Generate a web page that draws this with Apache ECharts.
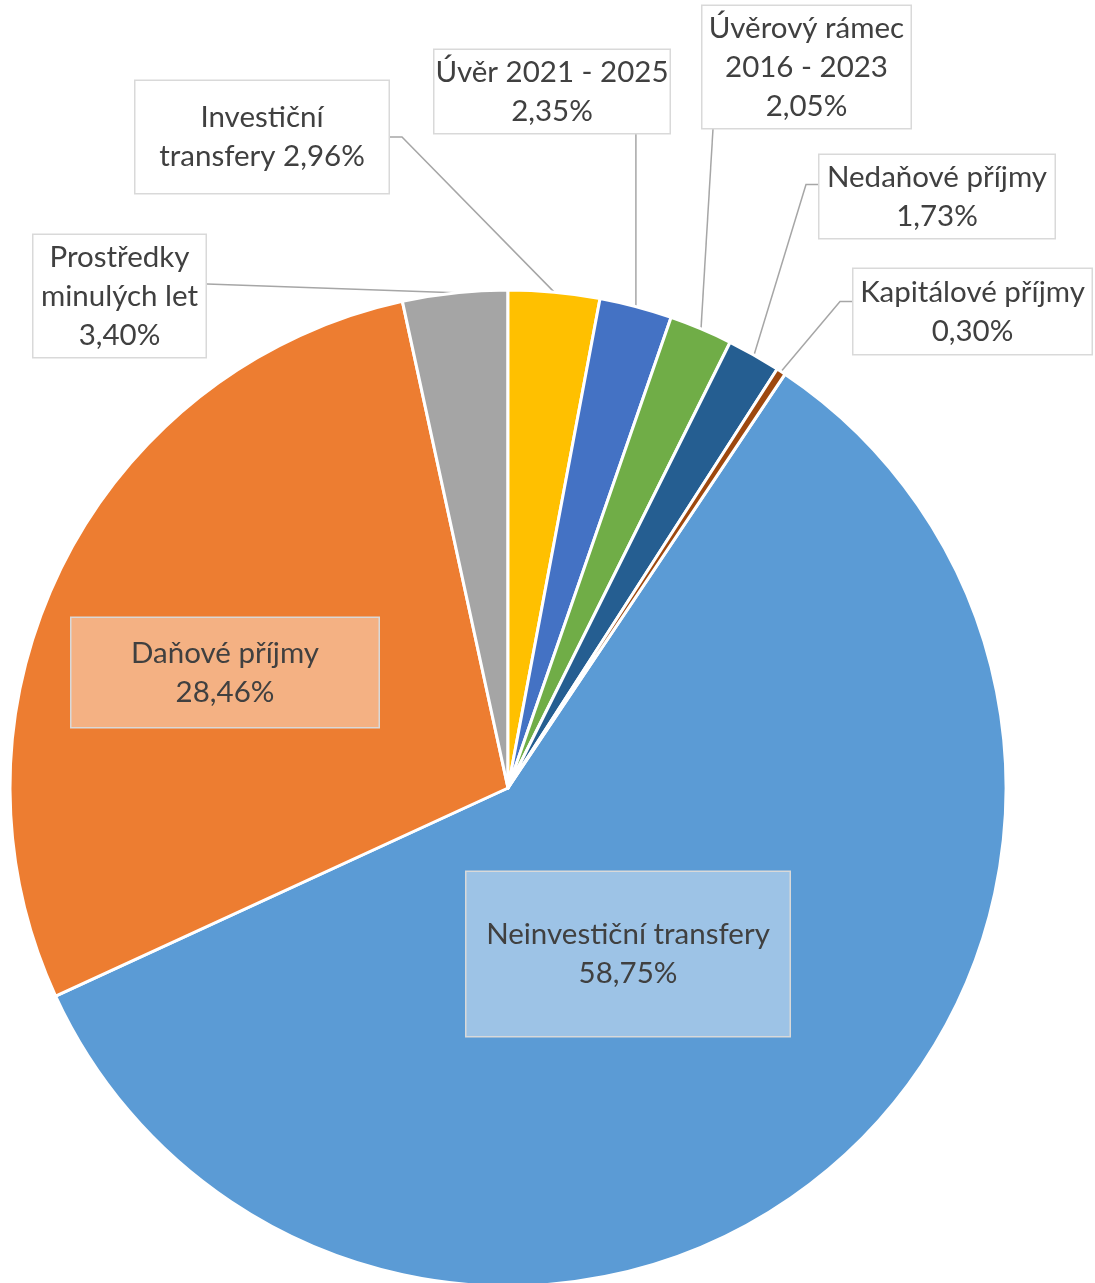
<!DOCTYPE html>
<html>
<head>
<meta charset="utf-8">
<script src="https://cdn.jsdelivr.net/npm/echarts@6/dist/echarts.min.js"></script>
<style>
  html, body { margin: 0; padding: 0; background: #fff; }
  #chart { width: 1095px; height: 1283px; }
</style>
</head>
<body>
<div id="chart"></div>
<script>
// kategorie příjmů (pořadí = pořadí výsečí po směru hodinových ručiček)
const categories = [
  'Neinvestiční transfery',
  'Daňové příjmy',
  'Prostředky\nminulých let',
  'Investiční\ntransfery',
  'Úvěr 2021 - 2025',
  'Úvěrový rámec\n2016 - 2023',
  'Nedaňové příjmy',
  'Kapitálové příjmy'
]
// podíly v %
const shares = [58.75, 28.46, 3.40, 2.96, 2.35, 2.05, 1.73, 0.30]
// procenta na stejném řádku jako název
const pctSameLine = [false, false, false, true, false, false, false, false]

const colors = ['#5B9BD5', '#ED7D31', '#A5A5A5', '#FFC000', '#4472C4', '#70AD47', '#255E91', '#9E480E']

// rozmístění popisků (střed boxu, velikost, strana pro vodicí čáru)
const labelBoxes = [
  { cx: 628, cy: 954, w: 326, h: 166, fill: '#9DC3E6' },
  { cx: 225, cy: 672.5, w: 310, h: 111, fill: '#F4B183' },
  { cx: 119.5, cy: 296, w: 175, h: 124, side: 'right', dy: -12, elbow: 0 },
  { cx: 262, cy: 137, w: 256, h: 114, side: 'right', dy: 0, elbow: 12 },
  { cx: 552, cy: 91.5, w: 238, h: 85, side: 'bottom' },
  { cx: 806.5, cy: 67, w: 211, h: 124, side: 'bottom' },
  { cx: 937, cy: 196.5, w: 238, h: 85, side: 'left', dy: -12, elbow: 12 },
  { cx: 972.5, cy: 311.5, w: 241, h: 87, side: 'left', dy: -10, elbow: 12 }
]

const LINE_H = 39
const fmtPct = v => v.toFixed(2).replace('.', ',') + '%'
const labelText = i => categories[i] + (pctSameLine[i] ? ' ' : '\n') + fmtPct(shares[i])

const chart = echarts.init(document.getElementById('chart'))

const data = categories.map((name, i) => {
  const b = labelBoxes[i]
  const lines = labelText(i).split('\n').length
  const pv = (b.h - lines * LINE_H) / 2 - 1
  return {
    name: name,
    value: shares[i],
    label: {
      width: b.w - 3,
      padding: [pv + 4, 0, pv - 4, 0],
      backgroundColor: b.fill || '#ffffff'
    },
    labelLine: { show: !!b.side }
  }
})

const option = {
  backgroundColor: '#ffffff',
  animation: false,
  color: colors,
  series: [
    {
      type: 'pie',
      center: [508, 788],
      radius: 498,
      startAngle: 56.2,
      clockwise: true,
      avoidLabelOverlap: false,
      itemStyle: { borderColor: '#ffffff', borderWidth: 3 },
      label: {
        show: true,
        position: 'outside',
        formatter: p => labelText(p.dataIndex),
        color: '#404040',
        fontFamily: 'Lato',
        fontSize: 29.5,
        lineHeight: LINE_H,
        align: 'center',
        borderColor: '#D9D9D9',
        borderWidth: 1.5
      },
      labelLine: {
        show: true,
        length: 10,
        length2: 10,
        lineStyle: { color: '#A6A6A6', width: 1.5 }
      },
      labelLayout: function (p) {
        const b = labelBoxes[p.dataIndex]
        const res = { x: b.cx, y: b.cy, align: 'center', verticalAlign: 'middle' }
        if (b.side && p.labelLinePoints) {
          const a = p.labelLinePoints[0]
          const L = b.cx - b.w / 2
          const R = b.cx + b.w / 2
          const B = b.cy + b.h / 2
          let pts
          if (b.side === 'right') {
            const y = b.cy + b.dy
            pts = [a, [R + b.elbow, y], [R, y]]
          } else if (b.side === 'left') {
            const y = b.cy + b.dy
            pts = [a, [L - b.elbow, y], [L, y]]
          } else {
            const x = Math.min(Math.max(a[0], L + 12), R - 12)
            pts = [a, [x, B], [x, B]]
          }
          res.labelLinePoints = pts
        }
        return res
      },
      data: data
    }
  ]
}

chart.setOption(option)
</script>
</body>
</html>
